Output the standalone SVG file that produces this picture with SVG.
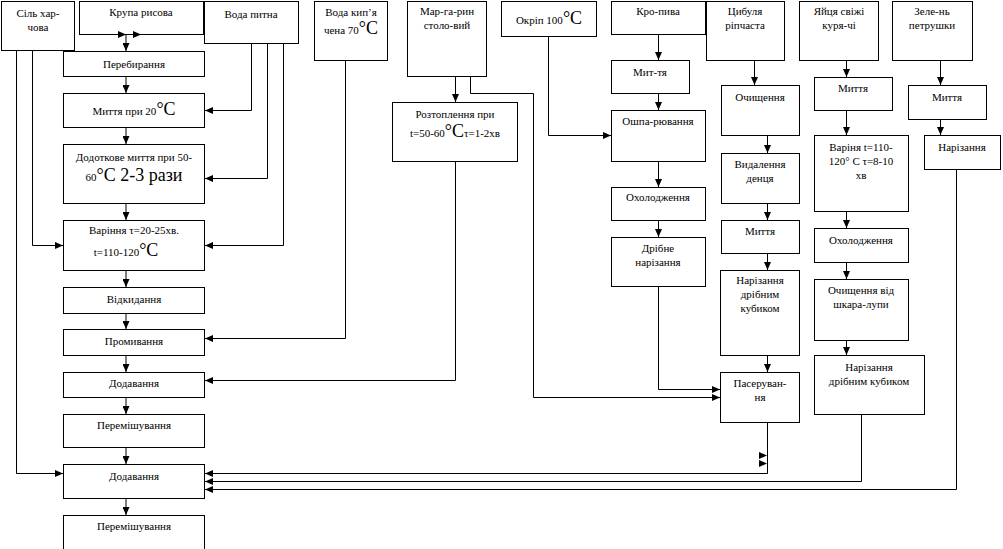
<svg xmlns="http://www.w3.org/2000/svg" width="1003" height="549" viewBox="0 0 1003 549">
<style>
rect{fill:#fff;stroke:#000;stroke-width:1}
text{font-family:"Liberation Serif","DejaVu Serif",serif;font-size:11px;text-anchor:middle;fill:#000}
.b{font-size:18px}
.c path{fill:none;stroke:#000;stroke-width:1;marker-end:url(#ah)}
.c polygon{fill:#000}
</style>
<defs>
<marker id="ah" viewBox="0 0 8 7" markerWidth="8" markerHeight="7" refX="8" refY="3.5" orient="auto" markerUnits="userSpaceOnUse"><path d="M0,0 L8,3.5 L0,7 z" fill="#000"/></marker>
</defs>
<rect x="0" y="0" width="1003" height="549" style="stroke:none"/>
<g id="sil"><rect x="1.5" y="1.5" width="73" height="49"/><text x="38" y="17">Сіль хар-</text><text x="38" y="31">чова</text></g>
<g id="krupa"><rect x="79.5" y="1.5" width="124" height="33"/><text x="141" y="16">Крупа рисова</text></g>
<g id="voda"><rect x="204.5" y="1.5" width="94" height="42"/><text x="251" y="18">Вода питна</text></g>
<g id="voda70"><rect x="314.5" y="1.5" width="73" height="59"/><text x="351" y="16">Вода кип’я</text><text x="351" y="34">чена 70<tspan class="b">°C</tspan></text></g>
<g id="marg"><rect x="407.5" y="1.5" width="79" height="75"/><text x="447" y="15">Мар-га-рин</text><text x="447" y="29">столо-вий</text></g>
<g id="okrip"><rect x="501.5" y="1.5" width="95" height="35"/><text x="549" y="24">Окріп 100<tspan class="b">°C</tspan></text></g>
<g id="kropyva"><rect x="611.5" y="1.5" width="94" height="33"/><text x="658" y="15">Кро-пива</text></g>
<g id="tsybulia"><rect x="706.5" y="1.5" width="78" height="59"/><text x="745" y="15">Цибуля</text><text x="745" y="29">ріпчаста</text></g>
<g id="yaitsia"><rect x="799.5" y="1.5" width="79" height="59"/><text x="839" y="15">Яйця свіжі</text><text x="839" y="29">куря-чі</text></g>
<g id="zelen"><rect x="892.5" y="1.5" width="80" height="59"/><text x="932" y="15">Зеле-нь</text><text x="932" y="29">петрушки</text></g>

<g id="perebyr"><rect x="63.5" y="51.5" width="141" height="25"/><text x="134" y="68">Перебирання</text></g>
<g id="myttia20"><rect x="63.5" y="93.5" width="141" height="34"/><text x="134" y="115">Миття при 20<tspan class="b">°C</tspan></text></g>
<g id="dodatk"><rect x="63.5" y="144.5" width="141" height="59"/><text x="134" y="161">Додоткове миття при 50-</text><text x="134" y="181">60<tspan class="b">°C 2-3 рази</tspan></text></g>
<g id="varinnia"><rect x="63.5" y="220.5" width="141" height="50"/><text x="134" y="234">Варіння τ=20-25хв.</text><text x="126" y="256">t=110-120<tspan class="b">°C</tspan></text></g>
<g id="vidkyd"><rect x="63.5" y="287.5" width="141" height="26"/><text x="134" y="303">Відкидання</text></g>
<g id="promyv"><rect x="63.5" y="329.5" width="141" height="26"/><text x="134" y="345">Промивання</text></g>
<g id="dodav1"><rect x="63.5" y="372.5" width="141" height="25"/><text x="134" y="387">Додавання</text></g>
<g id="peremish1"><rect x="63.5" y="414.5" width="141" height="33"/><text x="134" y="429">Перемішування</text></g>
<g id="dodav2"><rect x="63.5" y="464.5" width="141" height="34"/><text x="134" y="480">Додавання</text></g>
<g id="peremish2"><rect x="63.5" y="515.5" width="141" height="40"/><text x="134" y="530">Перемішування</text></g>

<g id="roztop"><rect x="392.5" y="102.5" width="125" height="59"/><text x="455" y="118">Розтоплення при</text><text x="455" y="137">t=50-60<tspan class="b">°C</tspan>τ=1-2хв</text></g>

<g id="myttiaK"><rect x="611.5" y="60.5" width="78" height="33"/><text x="650" y="76">Мит-тя</text></g>
<g id="oshpar"><rect x="611.5" y="110.5" width="94" height="51"/><text x="658" y="125">Ошпа-рювання</text></g>
<g id="okholK"><rect x="611.5" y="187.5" width="94" height="33"/><text x="658" y="201">Охолодження</text></g>
<g id="dribne"><rect x="611.5" y="237.5" width="94" height="49"/><text x="658" y="252">Дрібне</text><text x="658" y="266">нарізання</text></g>

<g id="ochyshch"><rect x="721.5" y="85.5" width="78" height="50"/><text x="760" y="101">Очищення</text></g>
<g id="vydal"><rect x="721.5" y="153.5" width="78" height="50"/><text x="760" y="168">Видалення</text><text x="760" y="182">денця</text></g>
<g id="myttiaTs"><rect x="721.5" y="220.5" width="78" height="33"/><text x="760" y="235">Миття</text></g>
<g id="narizTs"><rect x="720.5" y="270.5" width="79" height="85"/><text x="760" y="284">Нарізання</text><text x="760" y="298">дрібним</text><text x="760" y="312">кубиком</text></g>
<g id="paser"><rect x="720.5" y="372.5" width="79" height="50"/><text x="760" y="387">Пасеруван-</text><text x="760" y="401">ня</text></g>

<g id="myttiaY"><rect x="814.5" y="77.5" width="78" height="33"/><text x="853" y="92">Миття</text></g>
<g id="varY"><rect x="814.5" y="135.5" width="94" height="76"/><text x="861" y="151">Варіня t=110-</text><text x="861" y="165">120° C τ=8-10</text><text x="861" y="179">хв</text></g>
<g id="okholY"><rect x="814.5" y="228.5" width="94" height="34"/><text x="861" y="244">Охолодження</text></g>
<g id="ochY"><rect x="814.5" y="279.5" width="94" height="61"/><text x="861" y="294">Очищення від</text><text x="861" y="308">шкара-лупи</text></g>
<g id="narizY"><rect x="814.5" y="355.5" width="110" height="59"/><text x="869" y="371">Нарізання</text><text x="869" y="385">дрібним кубиком</text></g>

<g id="myttiaZ"><rect x="908.5" y="85.5" width="78" height="34"/><text x="947" y="101">Миття</text></g>
<g id="narizZ"><rect x="924.5" y="135.5" width="76" height="34"/><text x="962" y="151">Нарізання</text></g>

<g id="connectors" class="c">
<path d="M126,34.5 V51"/>
<path d="M126,76.5 V93"/>
<path d="M126,127.5 V144"/>
<path d="M126,203.5 V220"/>
<path d="M126,270.5 V287"/>
<path d="M126,313.5 V329"/>
<path d="M126,355.5 V372"/>
<path d="M126,397.5 V414"/>
<path d="M126,447.5 V464"/>
<path d="M126,498.5 V515"/>
<path d="M32.5,50.5 V245.5 H63"/>
<path d="M16.5,50.5 V473.5 H63"/>
<path d="M251.5,43.5 V110.5 H205"/>
<path d="M267.5,43.5 V178.5 H205"/>
<path d="M283.5,43.5 V245.5 H205"/>
<path d="M345.5,60.5 V338.5 H205"/>
<path d="M455.5,76.5 V102"/>
<path d="M455.5,161.5 V380.5 H205"/>
<path d="M470.5,76.5 V93.5 H533.5 V397.5 H720"/>
<path d="M548.5,36.5 V135.5 H611"/>
<path d="M658.5,34.5 V60"/>
<path d="M658.5,93.5 V110"/>
<path d="M658.5,161.5 V187"/>
<path d="M658.5,220.5 V237"/>
<path d="M658.5,286.5 V389.5 H720"/>
<path d="M754.5,60.5 V85"/>
<path d="M767.5,135.5 V153"/>
<path d="M767.5,203.5 V220"/>
<path d="M767.5,253.5 V270"/>
<path d="M767.5,355.5 V372"/>
<path d="M767.5,422.5 V473.5 H205"/>
<path d="M846.5,60.5 V77"/>
<path d="M846.5,110.5 V135"/>
<path d="M846.5,211.5 V228"/>
<path d="M846.5,262.5 V279"/>
<path d="M846.5,340.5 V355"/>
<path d="M861.5,414.5 V481.5 H205"/>
<path d="M940.5,60.5 V85"/>
<path d="M940.5,119.5 V135"/>
<path d="M956.5,169.5 V489.5 H205"/>
<polygon points="118,31 126,34.5 118,38"/>
<polygon points="133,31 141,34.5 133,38"/>
<polygon points="759,452 767,455.5 759,459"/>
<polygon points="759,460 767,463.5 759,467"/>
</g>
</svg>
